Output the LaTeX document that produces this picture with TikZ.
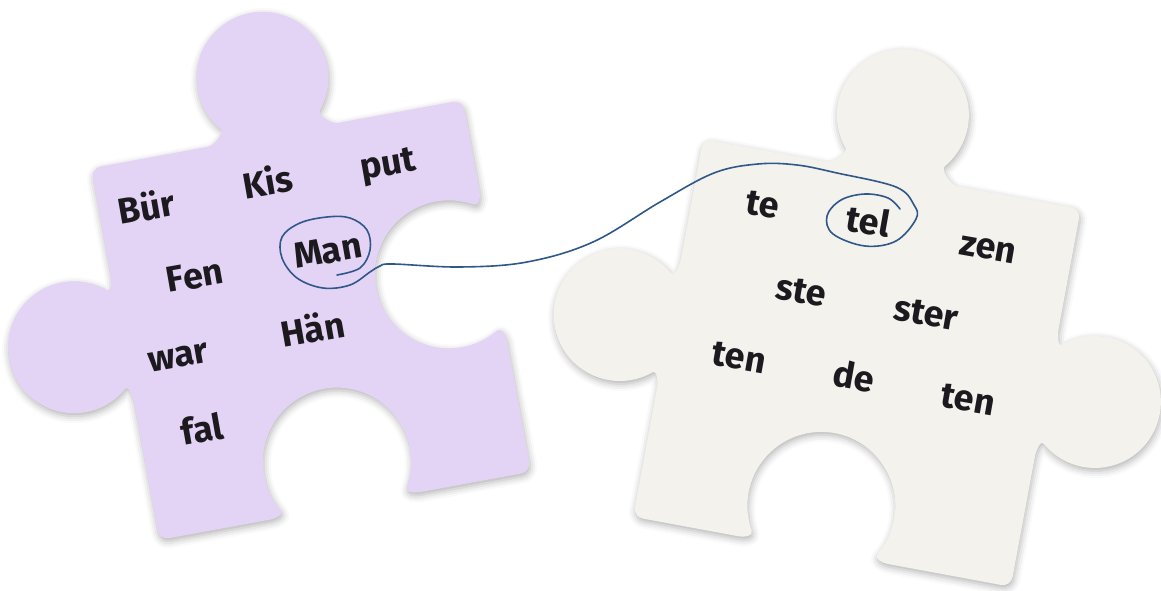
\documentclass[tikz,border=0pt]{standalone}
\usepackage{fontspec}
\setmainfont{Fira Sans}
\usetikzlibrary{shadows.blur}
\definecolor{lilac}{HTML}{E3D3F5}
\definecolor{cream}{HTML}{F3F2EC}
\definecolor{pen}{HTML}{30578A}
\definecolor{ink}{HTML}{1C1A1F}
% knob (#1 = direction of the edge, #2 = how far the knob sits out)
\newcommand\tabedge[2]{.. controls +(#1:6) and +(#1-50:6) .. ++({#1+atan2(#2-42.42,15.44)}:{veclen(15.44,#2-42.42)})
  arc[start angle=#1+220, end angle=#1-40, radius=66]
  .. controls +(#1+230:6) and +(#1+180:6) .. ++({#1-atan2(#2-42.42,15.44)}:{veclen(15.44,#2-42.42)})}
% hole
\newcommand\sockedge[1]{.. controls +(#1:6) and +(#1+60:6) .. ++(#1-33.9:14.35)
  arc[start angle=#1+150, end angle=#1+390, radius=74]
  .. controls +(#1+120:6) and +(#1+180:6) .. ++(#1+33.9:14.35)}
\begin{document}
\begin{tikzpicture}[x=1pt, y=1pt,
    piece/.style={blur shadow={shadow xshift=1pt, shadow yshift=-3pt, shadow blur radius=7pt, shadow opacity=30}},
    word/.style={text=ink, inner sep=0pt, anchor=base, font=\fontsize{36}{36}\selectfont\bfseries},
    lword/.style={word, rotate=10},
    rword/.style={word, rotate=-10},
    penline/.style={pen, line width=1.6pt, line cap=round, line join=round}]
\useasboundingbox (0,0) rectangle (1161,-591);
% left piece
\begin{scope}[shift={(311,-320)}, rotate=10.4]
  \fill[lilac, piece] (-179,189) -- ++(0:109) \tabedge{0}{58} -- ++(0:117) arc[start angle=90, end angle=0, radius=10]
    -- ++(-90:83) \sockedge{-90} -- ++(-90:123) arc[start angle=0, end angle=-90, radius=10]
    -- ++(180:103) \sockedge{180} -- ++(180:103) arc[start angle=-90, end angle=-180, radius=10]
    -- ++(90:129) \tabedge{90}{49} -- ++(90:97) arc[start angle=180, end angle=90, radius=10] -- cycle;
\end{scope}
% right piece
\begin{scope}[shift={(857,-363)}, rotate=-10.5]
  \fill[cream, piece] (-182,192) -- ++(0:116) \tabedge{0}{60} -- ++(0:116) arc[start angle=90, end angle=0, radius=10]
    -- ++(-90:111) \tabedge{-90}{49} -- ++(-90:121) arc[start angle=0, end angle=-90, radius=10]
    -- ++(180:115) \sockedge{180} -- ++(180:97) arc[start angle=-90, end angle=-180, radius=10]
    -- ++(90:120) \tabedge{90}{50} -- ++(90:112) arc[start angle=180, end angle=90, radius=10] -- cycle;
\end{scope}
\node[lword] (bur) at (149,-220) {Bür};
\node[lword] (kis) at (270,-195) {Kis};
\node[lword] (put) at (390,-175) {put};
\node[lword] (fen) at (197,-288) {Fen};
\node[lword] (man) at (330,-263) {Man};
\node[lword] (war) at (180,-367) {war};
\node[lword] (han) at (315,-342) {Hän};
\node[lword] (fal) at (204,-442) {fal};
\node[rword] (te) at (761,-216) {te};
\node[rword] (tel) at (866,-234) {tel};
\node[rword] (zen) at (986,-259) {zen};
\node[rword] (ste) at (799,-303) {ste};
\node[rword] (ster) at (924,-325) {ster};
\node[rword] (tenl) at (737,-369) {ten};
\node[rword] (de) at (852,-389) {de};
\node[rword] (tenr) at (966,-411) {ten};
% the pen stroke from Man to tel
\draw[penline] plot[smooth, tension=0.6] coordinates {(337,-275) (360,-268) (370,-250) (367,-230) (350,-218)
  (327,-217) (300,-223) (282,-237) (282,-258) (297,-278) (323,-288) (350,-285) (370,-272) (380,-266)
  (393,-264) (460,-267) (527,-262) (593,-242) (660,-202) (714,-173) (758,-164) (797,-165) (837,-173)
  (896,-187) (914,-205) (916,-219) (896,-241) (865,-246) (833,-234) (827,-216) (841,-200) (865,-194)
  (888,-198) (900,-209)};
\end{tikzpicture}
\end{document}
